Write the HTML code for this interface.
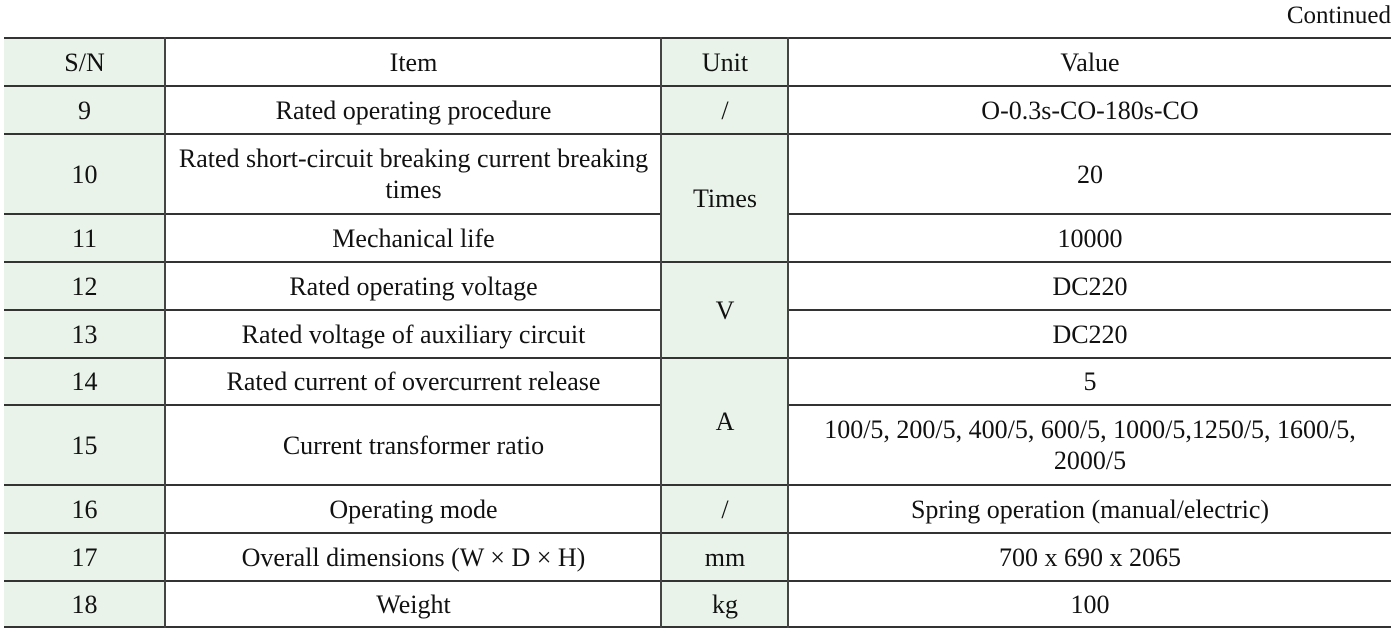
<!DOCTYPE html>
<html><head><meta charset="utf-8"><style>
body{margin:0;width:1400px;height:630px;background:#fff;position:relative;overflow:hidden;font-family:"Liberation Serif",serif;color:#111;font-size:26px}
.c{position:absolute;display:flex;align-items:center;justify-content:center;text-align:center;line-height:31px;box-sizing:border-box;white-space:nowrap}
.g{background:#e9f3ea}
.h{position:absolute;left:4px;width:1387px;height:2px;background:#333}
.v{position:absolute;width:2px;background:#444}
</style></head><body>
<div style="position:absolute;right:9px;top:2px;font-size:25px">Continued</div>

<div class="c g" style="left:4px;top:39px;width:161px;height:588px"></div>
<div class="c g" style="left:661px;top:39px;width:127px;height:588px"></div>

<div class="c" style="left:4px;top:39px;width:161px;height:47px">S/N</div>
<div class="c" style="left:4px;top:86px;width:161px;height:48px">9</div>
<div class="c" style="left:4px;top:134px;width:161px;height:80px">10</div>
<div class="c" style="left:4px;top:214px;width:161px;height:48px">11</div>
<div class="c" style="left:4px;top:262px;width:161px;height:48px">12</div>
<div class="c" style="left:4px;top:310px;width:161px;height:48px">13</div>
<div class="c" style="left:4px;top:358px;width:161px;height:47px">14</div>
<div class="c" style="left:4px;top:405px;width:161px;height:80px">15</div>
<div class="c" style="left:4px;top:485px;width:161px;height:48px">16</div>
<div class="c" style="left:4px;top:533px;width:161px;height:48px">17</div>
<div class="c" style="left:4px;top:581px;width:161px;height:47px">18</div>

<div class="c" style="left:166px;top:39px;width:495px;height:47px">Item</div>
<div class="c" style="left:166px;top:86px;width:495px;height:48px">Rated operating procedure</div>
<div class="c" style="left:166px;top:134px;width:495px;height:80px">Rated short-circuit breaking current breaking<br>times</div>
<div class="c" style="left:166px;top:214px;width:495px;height:48px">Mechanical life</div>
<div class="c" style="left:166px;top:262px;width:495px;height:48px">Rated operating voltage</div>
<div class="c" style="left:166px;top:310px;width:495px;height:48px">Rated voltage of auxiliary circuit</div>
<div class="c" style="left:166px;top:358px;width:495px;height:47px">Rated current of overcurrent release</div>
<div class="c" style="left:166px;top:405px;width:495px;height:80px">Current transformer ratio</div>
<div class="c" style="left:166px;top:485px;width:495px;height:48px">Operating mode</div>
<div class="c" style="left:166px;top:533px;width:495px;height:48px">Overall dimensions (W × D × H)</div>
<div class="c" style="left:166px;top:581px;width:495px;height:47px">Weight</div>

<div class="c" style="left:662px;top:39px;width:126px;height:47px">Unit</div>
<div class="c" style="left:662px;top:86px;width:126px;height:48px">/</div>
<div class="c" style="left:662px;top:134px;width:126px;height:128px">Times</div>
<div class="c" style="left:662px;top:262px;width:126px;height:96px">V</div>
<div class="c" style="left:662px;top:358px;width:126px;height:127px">A</div>
<div class="c" style="left:662px;top:485px;width:126px;height:48px">/</div>
<div class="c" style="left:662px;top:533px;width:126px;height:48px">mm</div>
<div class="c" style="left:662px;top:581px;width:126px;height:47px">kg</div>

<div class="c" style="left:789px;top:39px;width:602px;height:47px">Value</div>
<div class="c" style="left:789px;top:86px;width:602px;height:48px">O-0.3s-CO-180s-CO</div>
<div class="c" style="left:789px;top:134px;width:602px;height:80px">20</div>
<div class="c" style="left:789px;top:214px;width:602px;height:48px">10000</div>
<div class="c" style="left:789px;top:262px;width:602px;height:48px">DC220</div>
<div class="c" style="left:789px;top:310px;width:602px;height:48px">DC220</div>
<div class="c" style="left:789px;top:358px;width:602px;height:47px">5</div>
<div class="c" style="left:789px;top:405px;width:602px;height:80px">100/5, 200/5, 400/5, 600/5, 1000/5,1250/5, 1600/5,<br>2000/5</div>
<div class="c" style="left:789px;top:485px;width:602px;height:48px">Spring operation (manual/electric)</div>
<div class="c" style="left:789px;top:533px;width:602px;height:48px">700 x 690 x 2065</div>
<div class="c" style="left:789px;top:581px;width:602px;height:47px">100</div>

<div class="h" style="top:37px"></div>
<div class="h" style="top:85px"></div>
<div class="h" style="top:133px"></div>
<div class="h" style="top:213px;left:4px;width:658px"></div>
<div class="h" style="top:213px;left:788px;width:603px"></div>
<div class="h" style="top:261px"></div>
<div class="h" style="top:309px;left:4px;width:658px"></div>
<div class="h" style="top:309px;left:788px;width:603px"></div>
<div class="h" style="top:357px"></div>
<div class="h" style="top:404px;left:4px;width:658px"></div>
<div class="h" style="top:404px;left:788px;width:603px"></div>
<div class="h" style="top:484px"></div>
<div class="h" style="top:532px"></div>
<div class="h" style="top:580px"></div>
<div class="h" style="top:626px"></div>

<div class="v" style="left:164px;top:37px;height:591px"></div>
<div class="v" style="left:660px;top:37px;height:591px"></div>
<div class="v" style="left:787px;top:37px;height:591px"></div>
</body></html>
